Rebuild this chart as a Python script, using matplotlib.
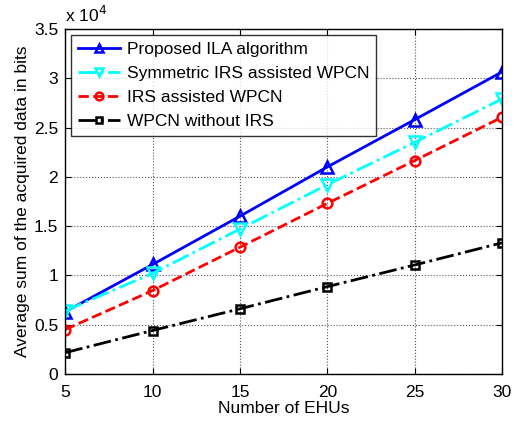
import matplotlib
matplotlib.use('Agg')
import matplotlib.pyplot as plt
from matplotlib.ticker import FormatStrFormatter
import numpy as np

plt.rcParams['font.family'] = ['Liberation Sans', 'DejaVu Sans']
plt.rcParams['font.size'] = 12.5

ehus = [5, 10, 15, 20, 25, 30]
ila = [6300, 11100, 16000, 21000, 25800, 30650]
sym_irs = [6400, 10200, 14700, 19200, 23500, 27900]
irs = [4500, 8450, 12850, 17300, 21650, 26050]
no_irs = [2150, 4400, 6600, 8850, 11050, 13300]
scale = 1e4

fig = plt.figure(figsize=(5.17, 4.21), dpi=100)
ax = fig.add_axes([0.126, 0.112, 0.845, 0.819])

def s(v):
    return np.array(v) / scale

ax.plot(ehus, s(ila), '-', color='blue', lw=2, marker='^', ms=8, mfc='none', mew=1.8,
        label='Proposed ILA algorithm')
ax.plot(ehus, s(sym_irs), '-.', color='cyan', lw=2, marker='v', ms=8, mfc='none', mew=1.8,
        label='Symmetric IRS assisted WPCN')
ax.plot(ehus, s(irs), '--', color='red', lw=2, marker='o', ms=7, mfc='none', mew=1.8,
        label='IRS assisted WPCN')
ax.plot(ehus, s(no_irs), '-.', color='black', lw=2, marker='s', ms=6, mfc='none', mew=1.8,
        label='WPCN without IRS')

ax.set_xlim(5, 30)
ax.set_ylim(0, 3.5)
ax.set_xticks(ehus)
ax.set_yticks(np.arange(0, 3.51, 0.5))
ax.yaxis.set_major_formatter(FormatStrFormatter('%g'))
ax.grid(True, linestyle=':', color='#555555', linewidth=0.8)
ax.tick_params(direction='in', length=4, labelsize=12.5, top=True, right=True)
ax.tick_params(axis='x', pad=8)
ax.tick_params(axis='y', pad=5)
for sp in ax.spines.values():
    sp.set_linewidth(1.0)

ax.set_xlabel('Number of EHUs', fontsize=12.5, labelpad=1)
ax.set_ylabel('Average sum of the acquired data in bits', fontsize=12.5, labelpad=3)
ax.text(0.0, 1.012, 'x 10$^4$', transform=ax.transAxes, fontsize=12.5, ha='left', va='bottom')

leg = ax.legend(loc='upper left', fontsize=12.5, frameon=True, fancybox=False,
                edgecolor='black', borderaxespad=0.35, handlelength=2.4,
                labelspacing=0.5, borderpad=0.4, handletextpad=0.4, markerscale=0.8)
leg.get_frame().set_linewidth(1.0)

fig.savefig('out.png', dpi=100)
